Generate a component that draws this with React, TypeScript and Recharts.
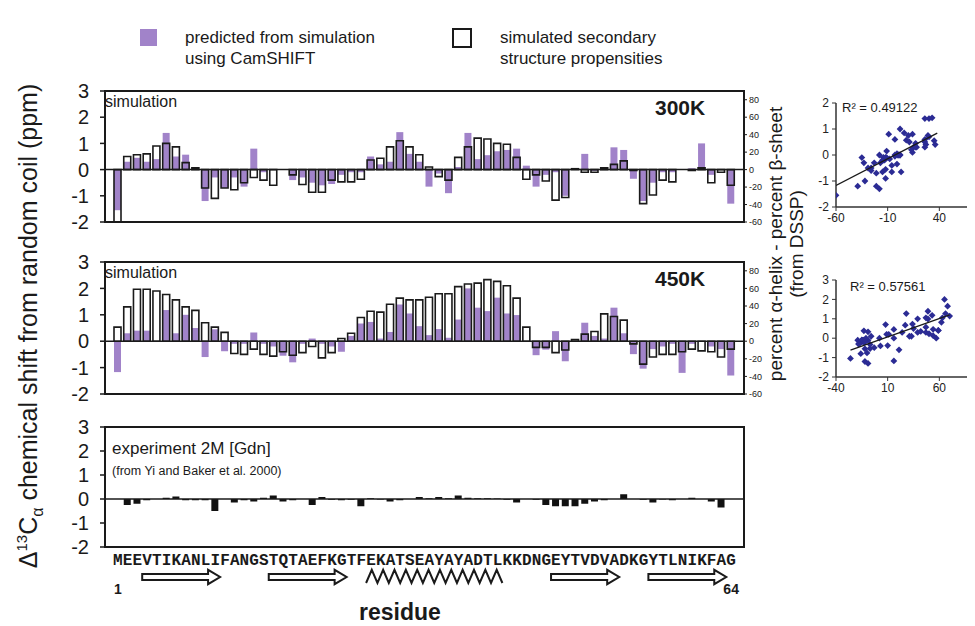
import React from "react";
import {
  BarChart,
  Bar,
  XAxis,
  YAxis,
  ReferenceLine,
  ReferenceArea,
  ScatterChart,
  Scatter,
} from "recharts";

const SEQUENCE = "MEEVTIKANLIFANGSTQTAEFKGTFEKATSEAYAYADTLKKDNGEYTVDVADKGYTLNIKFAG";

// CamSHIFT predicted shift (ppm), 300K
const cam300 = [
  -1.55, 0.3, 0.45, 0.3, 0.4, 1.4, 0.5, 0.57, 0, -1.2,
  -0.3, -0.7, -0.3, -0.65, 0.8, -0.1, 0, 0, -0.4, -0.3,
  -0.5, -0.6, -0.55, -0.2, -0.1, -0.1, 0.5, 0.2, 0.3, 1.43,
  0.6, 0.3, -0.65, -0.15, -0.9, 0.1, 1.4, 0.4, 0.55, 0.7,
  0.75, 0.8, 0.15, -0.65, -0.2, -0.1, -1.0, 0, 0.6, -0.05,
  0, 0.85, 0.75, -0.35, -1.2, -0.5, -0.1, -0.1, 0, 0.05,
  1.0, -0.2, 0, -1.3,
];
// % helix - % sheet, 300K
const ss300 = [
  -60, 15, 17, 18, 27, 30, 26, 8, 2, -21,
  -33, -21, -23, -15, -9, -12, -18, 0, -6, -17,
  -26, -26, -12, -14, -14, -11, 11, 13, 26, 33,
  26, 17, 3, -8, -12, 14, 26, 36, 35, 30,
  29, 14, -11, -6, -13, -35, -32, 1, -3, -3,
  2, 6, 10, -1, -39, -29, -12, -14, 0, -1,
  2, -15, -3, -18,
];
// CamSHIFT predicted shift (ppm), 450K
const cam450 = [
  -1.17, 0.3, 0.4, 0.4, 0, 1.18, 0.3, 1.0, 0.5, -0.6,
  0.45, -0.38, -0.1, -0.1, 0.33, -0.1, -0.2, -0.55, -0.8, -0.1,
  0.1, -0.1, -0.2, -0.4, 0.2, 0.67, 0.73, 0.1, 0.35, 1.39,
  1.05, 0.57, 0.23, 0.46, 0.13, 0.82, 2.0, 1.27, 1.14, 1.65,
  1.05, 0.99, 0, -0.53, -0.32, 0.38, -0.76, 0, 0.7, 0.2,
  0.1, 1.27, 0.3, -0.49, -1.04, -0.3, -0.2, -0.1, -1.2, -0.1,
  0, -0.2, -0.3, -1.3,
];
// % helix - % sheet, 450K
const ss450 = [
  16, 39, 59, 59, 57, 53, 47, 39, 35, 21,
  16, 10, -14, -15, -9, -15, -17, -12, -16, -13,
  -6, -19, -13, 3, 9, 27, 34, 33, 42, 49,
  47, 47, 50, 54, 54, 62, 65, 66, 70, 68,
  63, 49, 16, -7, -7, -13, -10, 2, 8, 11,
  31, 28, 24, -3, -26, -18, -15, -15, -12, -9,
  -11, -12, -18, -9,
];
// experiment 2M Gdn (ppm)
const expShift = [
  0, -0.25, -0.2, -0.05, 0, 0.05, 0.1, -0.05, -0.05, -0.05,
  -0.5, 0, -0.15, -0.05, -0.1, 0.05, 0.15, -0.1, -0.05, 0,
  -0.25, 0.08, -0.03, -0.05, -0.03, -0.3, 0.03, -0.02, -0.1, -0.05,
  0, 0.08, 0.03, 0.08, 0.03, 0.15, 0.05, 0.03, 0.03, 0.02,
  -0.03, -0.15, 0, -0.03, -0.25, -0.3, -0.3, -0.3, -0.2, -0.1,
  -0.05, 0, 0.2, 0, -0.03, -0.15, -0.02, -0.05, 0, 0.05,
  0, -0.1, -0.35, 0,
];

// secondary structure (first, last residue)
const strands = [[4, 11], [17, 24], [46, 52], [56, 63]];
const helices = [[27, 40]];

const ppmTicks = [-2, -1, 0, 1, 2, 3];
const pctTicks = [-60, -40, -20, 0, 20, 40, 60, 80];

const trend300 = [{ x: -60, y: -1.17 }, { x: 38, y: 0.84 }];
const trend450 = [{ x: -26, y: -0.62 }, { x: 70, y: 1.2 }];

const PURPLE = "#a183c9";
const INK = "#1a1a1a";
const DOT = "#2b2b94";

const residues = SEQUENCE.split("").map((_, i) => i + 1);
const rows300 = residues.map((res, i) => ({ res, cam: cam300[i], ss: ss300[i] }));
const rows450 = residues.map((res, i) => ({ res, cam: cam450[i], ss: ss450[i] }));
const rowsExp = residues.map((res, i) => ({ res, v: expShift[i] }));
const pts300 = residues.map((_, i) => ({ x: ss300[i], y: cam300[i] }));
const pts450 = residues.map((_, i) => ({ x: ss450[i], y: cam450[i] }));

// plot box, in container px
const PX = 97;
const PW = 639;
const LEFT_W = 48;
const RIGHT_W = 32;
const PAD = { left: 8, right: 8 };

const abs = (l: number, t: number, extra: any = {}) => ({ position: "absolute" as const, left: l, top: t, ...extra });

function Frame({ top, height }: { top: number; height: number }) {
  return (
    <div style={abs(PX - 1, top - 1, { width: PW + 2, height: height + 2, border: `2px solid ${INK}`, boxSizing: "border-box", pointerEvents: "none" })} />
  );
}

function SimPanel({ data, top, height, temp }: any) {
  return (
    <>
      <div style={abs(PX - LEFT_W, top - 12)}>
        <BarChart width={LEFT_W + PW + RIGHT_W} height={height + 24} data={data} margin={{ top: 12, right: 0, bottom: 12, left: 0 }}>
          <XAxis xAxisId="a" dataKey="res" hide padding={PAD} />
          <XAxis xAxisId="b" dataKey="res" hide padding={PAD} />
          <YAxis yAxisId="ppm" domain={[-2, 3]} ticks={ppmTicks} interval={0} width={LEFT_W} axisLine={false}
            tickSize={5} tickMargin={11} tickLine={{ stroke: INK, strokeWidth: 1.5 }}
            tick={{ fontSize: 20, fill: INK }} allowDataOverflow />
          <YAxis yAxisId="pct" orientation="right" domain={[-60, 90]} ticks={pctTicks} interval={0} width={RIGHT_W} axisLine={false}
            tickSize={3} tickMargin={2} tickLine={{ stroke: INK }} tick={{ fontSize: 9, fill: INK }} allowDataOverflow />
          <ReferenceLine xAxisId="a" yAxisId="ppm" y={0} stroke={INK} strokeWidth={1.5} />
          <Bar xAxisId="a" yAxisId="ppm" dataKey="cam" fill={PURPLE} barSize={7} isAnimationActive={false} />
          <Bar xAxisId="b" yAxisId="pct" dataKey="ss" fill="none" stroke={INK} strokeWidth={1.6} barSize={7} isAnimationActive={false} />
        </BarChart>
      </div>
      <Frame top={top} height={height} />
      <div style={abs(105 - 8, top + 2, { fontSize: 16, color: INK })}>simulation</div>
      <div style={abs(655 - 8, top + 5, { fontSize: 21, fontWeight: "bold", color: INK })}>{temp}</div>
    </>
  );
}

function SeqTick({ x, y, payload }: any) {
  const r = payload.value;
  return (
    <g>
      <text x={x} y={y + 18} textAnchor="middle" fontFamily="'Liberation Mono', monospace" fontWeight="bold" fontSize={16} fill={INK}>
        {SEQUENCE[r - 1]}
      </text>
      {(r === 1 || r === 64) && (
        <text x={x} y={y + 47} textAnchor="middle" fontWeight="bold" fontSize={14} fill={INK}>{r}</text>
      )}
    </g>
  );
}

function StrandShape({ x, y, width, height }: any) {
  const cy = y + height / 2;
  const head = 12;
  const bh = 3;
  const hh = height / 2;
  const e = x + width;
  const pts = [
    [x, cy - bh], [e - head, cy - bh], [e - head, cy - hh], [e, cy],
    [e - head, cy + hh], [e - head, cy + bh], [x, cy + bh],
  ].map((p) => p.join(",")).join(" ");
  return <polygon points={pts} fill="#fff" stroke={INK} strokeWidth={2} strokeLinejoin="miter" />;
}

function HelixShape({ x, y, width, height }: any) {
  const n = Math.max(1, Math.round(width / 11.5));
  const step = width / n;
  const pts: string[] = [];
  for (let k = 0; k <= n; k++) {
    pts.push(`${x + k * step},${y + height}`);
    if (k < n) pts.push(`${x + k * step + step / 2},${y}`);
  }
  return <polyline points={pts.join(" ")} fill="none" stroke={INK} strokeWidth={2} />;
}

function Diamond({ cx, cy }: any) {
  if (cx == null || cy == null) return <g />;
  const s = 3.4;
  return <polygon points={`${cx},${cy - s} ${cx + s},${cy} ${cx},${cy + s} ${cx - s},${cy}`} fill={DOT} />;
}

function Corr({ top, height, pts, trend, xDomain, xTicks, yDomain, yTicks, r2 }: any) {
  return (
    <>
      <div style={abs(806, top - 8)}>
        <ScatterChart width={22 + 155 + 5} height={height + 8 + 22} margin={{ top: 8, right: 5, bottom: 0, left: 0 }}>
          <XAxis type="number" dataKey="x" domain={xDomain} ticks={xTicks} interval={0} allowDataOverflow height={22}
            axisLine={{ stroke: "#333", strokeWidth: 1.5 }} tickLine={{ stroke: "#333" }} tickSize={4} tickMargin={2}
            tick={{ fontSize: 12, fill: "#222" }} />
          <YAxis type="number" dataKey="y" domain={yDomain} ticks={yTicks} interval={0} allowDataOverflow width={22}
            axisLine={{ stroke: "#333", strokeWidth: 1.5 }} tickLine={{ stroke: "#333" }} tickSize={4} tickMargin={3}
            tick={{ fontSize: 12, fill: "#222" }} />
          <Scatter data={pts} shape={Diamond} isAnimationActive={false} />
          <Scatter data={trend} line={{ stroke: INK, strokeWidth: 1.3 }} shape={() => <g />} isAnimationActive={false} />
        </ScatterChart>
      </div>
      <div style={abs(r2.x, r2.y, { fontSize: 13, color: INK, whiteSpace: "nowrap" })}>
        R² = {r2.text}
      </div>
    </>
  );
}

export default function App() {
  const P1 = { top: 83, height: 131 };
  const P2 = { top: 254, height: 132 };
  const P3 = { top: 419, height: 120 };

  return (
    <div style={{ position: "relative", width: 967, height: 618, overflow: "hidden", background: "#fff", fontFamily: "'Liberation Sans', Arial, sans-serif", color: INK }}>
      {/* legend */}
      <div style={abs(132, 21, { width: 17, height: 17, background: PURPLE })} />
      <div style={abs(177, 19, { fontSize: 17, lineHeight: "21px" })}>predicted from simulation<br />using CamSHIFT</div>
      <div style={abs(444, 20, { width: 20, height: 20, border: `2px solid ${INK}`, boxSizing: "border-box" })} />
      <div style={abs(492, 19, { fontSize: 17, lineHeight: "21px" })}>simulated secondary<br />structure propensities</div>

      {/* left axis title */}
      <div style={abs(22, 318, { transform: "translate(-50%, -50%) rotate(-90deg)", whiteSpace: "nowrap", fontSize: 25 })}>
        Δ<sup style={{ fontSize: 15 }}>13</sup>C<sub style={{ fontSize: 16 }}>α</sub> chemical shift from random coil (ppm)
      </div>

      {/* right axis title */}
      <div style={abs(778, 236, { transform: "translate(-50%, -50%) rotate(-90deg)", whiteSpace: "nowrap", fontSize: 19, textAlign: "center", lineHeight: "21px" })}>
        percent α-helix - percent β-sheet<br />(from DSSP)
      </div>

      <SimPanel data={rows300} top={P1.top} height={P1.height} temp="300K" />
      <SimPanel data={rows450} top={P2.top} height={P2.height} temp="450K" />

      {/* experiment panel */}
      <div style={abs(PX - LEFT_W, P3.top - 12)}>
        <BarChart width={LEFT_W + PW + RIGHT_W} height={P3.height + 12 + 62} data={rowsExp} margin={{ top: 12, right: RIGHT_W, bottom: 2, left: 0 }}>
          <XAxis dataKey="res" padding={PAD} interval={0} axisLine={false} tickLine={false} tickSize={0} tickMargin={0} height={60} tick={<SeqTick />} />
          <YAxis domain={[-2, 3]} ticks={ppmTicks} interval={0} width={LEFT_W} axisLine={false}
            tickSize={5} tickMargin={11} tickLine={{ stroke: INK, strokeWidth: 1.5 }}
            tick={{ fontSize: 20, fill: INK }} allowDataOverflow />
          <ReferenceLine y={0} stroke={INK} strokeWidth={1.5} />
          <Bar dataKey="v" fill="#111" barSize={7} isAnimationActive={false} />
          {strands.map(([a, b]) => (
            <ReferenceArea key={`s${a}`} x1={a} x2={b} y1={-3.55} y2={-2.95} ifOverflow="visible" shape={StrandShape} />
          ))}
          {helices.map(([a, b]) => (
            <ReferenceArea key={`h${a}`} x1={a} x2={b} y1={-3.5} y2={-2.95} ifOverflow="visible" shape={HelixShape} />
          ))}
        </BarChart>
      </div>
      <Frame top={P3.top} height={P3.height} />
      <div style={abs(104, P3.top + 12, { fontSize: 17 })}>experiment 2M [Gdn]</div>
      <div style={abs(104, P3.top + 37, { fontSize: 12.5 })}>(from Yi and Baker et al. 2000)</div>

      <div style={abs(392, 604, { transform: "translate(-50%, -50%)", fontSize: 23, fontWeight: "bold" })}>residue</div>

      <Corr top={95} height={104} pts={pts300} trend={trend300} xDomain={[-60, 90]} xTicks={[-60, -10, 40]}
        yDomain={[-2, 2]} yTicks={[-2, -1, 0, 1, 2]} r2={{ x: 834, y: 92, text: "0.49122" }} />
      <Corr top={272} height={97} pts={pts450} trend={trend450} xDomain={[-40, 110]} xTicks={[-40, 10, 60]}
        yDomain={[-2, 3]} yTicks={[-2, -1, 0, 1, 2, 3]} r2={{ x: 842, y: 271, text: "0.57561" }} />
    </div>
  );
}
